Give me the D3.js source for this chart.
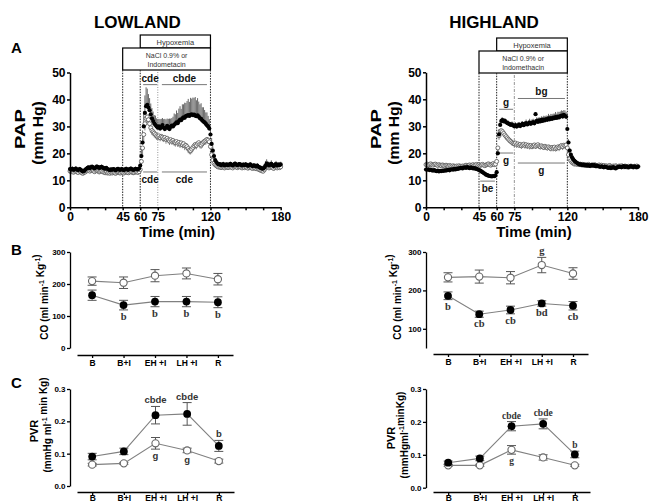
<!DOCTYPE html>
<html>
<head>
<meta charset="utf-8">
<script src="https://cdn.jsdelivr.net/npm/d3@7"></script>
<style>
  body { margin: 0; background: #fff; }
  svg { display: block; font-family: "Liberation Sans", Arial, sans-serif; }
</style>
</head>
<body>
<svg id="fig" width="649" height="502"></svg>
<script>
// ---------- Panel A: pulmonary arterial pressure, one value per minute (0..180) ----------
const minutes = d3.range(0, 181);
const xTickLabels = [0, 45, 60, 75, 120, 180];
const papTicks = [0, 10, 20, 30, 40, 50];

const lowFilledPAP = [
  14.2,14.0,14.3,13.9,14.1,14.4,14.0,13.8,14.2,14.0,13.6,13.3,13.5,13.9,14.3,
  14.6,14.8,14.5,14.9,15.0,14.7,14.4,14.8,15.1,14.9,14.6,14.8,15.0,14.7,14.5,
  14.3,14.6,14.2,14.0,13.8,14.1,13.9,14.2,14.0,13.7,14.1,14.3,14.0,13.9,14.2,
  14.0,13.8,14.1,14.3,14.0,13.9,14.2,14.4,14.1,13.9,14.0,14.3,14.2,14.0,14.4,
  15.5,19.0,24.0,30.0,35.0,37.5,38.0,37.0,36.0,34.5,33.0,32.0,31.0,30.5,30.0,
  29.5,30.0,29.2,29.8,30.5,29.5,29.0,29.6,30.2,29.4,29.0,29.8,30.3,30.0,30.6,
  31.0,31.5,31.2,32.0,32.5,32.3,33.0,33.4,33.2,33.8,34.0,34.2,33.9,34.3,34.5,
  34.2,34.4,34.0,33.8,34.1,33.6,33.0,32.8,32.2,31.8,31.5,31.0,30.4,30.0,29.2,
  27.0,23.5,21.0,19.0,17.5,16.8,16.2,15.9,16.0,15.6,15.8,16.0,15.5,15.7,15.9,
  15.6,15.8,16.1,15.7,15.5,15.9,16.2,15.8,15.6,15.9,16.0,15.7,15.5,15.8,15.6,
  15.9,15.7,15.4,15.6,15.9,15.5,15.3,15.6,15.4,15.2,15.5,15.0,14.8,14.6,14.4,
  14.3,14.8,15.4,16.2,16.0,15.5,15.8,16.1,15.6,15.3,15.7,16.0,15.5,15.8,15.6,15.9
];
const lowFilledErr = [
  0.8,0.7,0.9,0.8,0.7,0.9,0.8,0.7,0.8,0.9,0.8,0.7,0.8,0.9,0.8,
  0.9,0.8,0.9,1.0,0.9,0.8,0.9,1.0,0.9,0.8,0.9,0.8,0.9,0.8,0.7,
  0.8,0.7,0.8,0.7,0.8,0.7,0.8,0.7,0.8,0.7,0.8,0.7,0.8,0.7,0.8,
  0.7,0.8,0.7,0.8,0.7,0.8,0.7,0.8,0.7,0.8,0.7,0.8,0.7,0.8,0.9,
  1.5,3.0,4.5,5.5,6.5,7.0,6.0,5.0,4.5,4.0,3.8,3.5,3.2,3.5,3.0,
  3.2,2.8,3.5,3.0,2.6,3.2,3.8,3.0,2.7,3.4,3.9,3.1,2.8,3.6,4.2,
  3.5,4.4,3.8,4.6,5.0,4.2,5.2,4.8,5.6,4.9,5.4,6.0,5.2,6.3,5.8,
  6.5,6.2,6.9,5.9,6.4,5.6,5.2,5.8,4.9,5.3,4.6,4.2,4.8,3.9,3.5,
  3.0,2.2,1.6,1.2,1.0,0.9,0.8,0.9,0.8,0.9,0.8,0.9,0.8,0.9,0.8,
  0.8,0.9,0.8,0.9,0.8,0.9,0.8,0.9,0.8,0.9,0.8,0.9,0.8,0.9,0.8,
  0.9,0.8,0.9,0.8,0.9,0.8,0.9,0.8,0.9,0.8,0.9,0.8,0.9,0.8,0.9,
  1.0,1.3,1.8,1.6,1.2,1.0,1.1,1.3,1.0,0.9,1.1,1.2,1.0,0.9,1.1,1.0
];
const lowOpenPAP = [
  13.4,13.2,13.5,13.0,13.3,13.6,13.1,12.9,13.4,13.2,12.8,12.6,12.9,13.1,13.5,
  13.6,13.8,13.4,13.7,13.9,13.5,13.2,13.6,13.8,13.4,13.1,13.3,13.5,13.2,13.0,
  12.8,13.1,12.7,12.9,12.6,12.9,12.7,13.0,12.8,12.6,12.9,13.1,12.8,12.7,13.0,
  12.9,12.7,13.0,13.2,12.9,12.8,13.1,13.3,13.0,12.8,12.9,13.2,13.1,12.9,13.2,
  14.0,17.0,22.0,27.0,31.0,33.0,33.5,32.5,31.0,29.5,28.5,28.0,27.5,27.0,26.5,
  26.2,26.5,25.8,26.3,26.0,25.5,25.9,25.2,25.6,25.0,24.6,25.1,24.5,24.8,24.2,
  24.0,24.4,23.8,24.1,23.5,23.9,23.2,23.6,22.8,23.0,22.5,21.8,21.2,21.0,21.6,
  22.2,22.8,23.3,23.0,23.6,24.0,23.4,23.1,23.7,24.2,24.5,24.8,25.2,24.9,24.3,
  22.5,19.5,17.5,16.3,15.8,15.4,15.1,14.9,15.0,14.7,14.9,15.1,14.6,14.8,15.0,
  14.7,14.9,15.2,14.8,14.6,15.0,15.3,14.9,14.7,15.0,15.1,14.8,14.6,14.9,14.7,
  15.0,14.8,14.5,14.7,15.0,14.6,14.4,14.7,14.5,14.3,14.6,14.1,13.9,13.7,13.5,
  13.4,13.9,14.6,15.2,15.0,14.6,14.9,15.2,14.7,14.4,14.8,15.1,14.6,14.9,14.7,15.0
];
const lowOpenErr = [
  0.6,0.7,0.6,0.7,0.6,0.7,0.6,0.7,0.6,0.7,0.6,0.7,0.6,0.7,0.6,
  0.7,0.6,0.7,0.6,0.7,0.6,0.7,0.6,0.7,0.6,0.7,0.6,0.7,0.6,0.7,
  0.6,0.7,0.6,0.7,0.6,0.7,0.6,0.7,0.6,0.7,0.6,0.7,0.6,0.7,0.6,
  0.7,0.6,0.7,0.6,0.7,0.6,0.7,0.6,0.7,0.6,0.7,0.6,0.7,0.6,0.7,
  1.0,1.8,2.4,2.6,2.5,2.3,2.1,2.0,1.9,1.8,1.7,1.6,1.6,1.5,1.5,
  1.4,1.5,1.3,1.4,1.5,1.3,1.4,1.6,1.4,1.3,1.5,1.4,1.3,1.5,1.4,
  1.5,1.3,1.4,1.6,1.5,1.4,1.3,1.5,1.6,1.4,1.5,1.7,1.5,1.4,1.6,
  1.5,1.4,1.6,1.5,1.4,1.3,1.5,1.4,1.6,1.5,1.4,1.6,1.5,1.4,1.5,
  1.4,1.2,1.0,0.8,0.7,0.7,0.6,0.7,0.6,0.7,0.6,0.7,0.6,0.7,0.6,
  0.7,0.6,0.7,0.6,0.7,0.6,0.7,0.6,0.7,0.6,0.7,0.6,0.7,0.6,0.7,
  0.6,0.7,0.6,0.7,0.6,0.7,0.6,0.7,0.6,0.7,0.6,0.7,0.6,0.7,0.6,
  0.8,0.9,1.0,0.9,0.8,0.7,0.8,0.7,0.6,0.7,0.6,0.7,0.6,0.7,0.6,0.7
];
const highFilledPAP = [
  14.0,13.9,14.1,13.8,14.0,13.7,13.6,13.8,13.5,13.4,13.6,13.3,13.5,13.4,13.6,
  13.5,13.7,13.6,13.8,13.9,13.7,14.0,14.1,13.9,14.2,14.0,14.3,14.2,14.4,14.5,
  14.6,14.4,14.7,14.8,14.6,14.9,14.7,14.5,14.8,14.6,14.4,14.5,14.3,14.2,14.0,
  13.8,13.6,13.3,13.0,12.7,12.4,12.1,11.9,11.7,11.6,11.5,11.4,11.6,11.5,11.8,
  13.0,20.0,27.0,30.5,32.0,32.3,31.8,32.0,31.5,31.2,31.0,30.8,30.5,30.7,30.3,
  30.0,30.4,29.9,30.2,30.6,30.1,30.5,30.9,30.4,30.8,31.2,30.7,31.0,31.4,30.9,
  31.3,31.6,31.1,34.5,32.0,31.6,32.2,31.8,32.4,32.0,32.5,32.2,32.7,32.4,32.9,
  32.6,33.0,32.7,33.2,33.0,33.4,33.1,33.6,33.3,33.8,34.0,33.6,34.2,33.9,33.5,
  29.0,24.0,21.0,19.5,18.5,17.8,17.2,16.8,16.5,16.2,16.0,15.8,15.9,15.6,15.8,
  15.5,15.7,15.4,15.6,15.3,15.5,15.7,15.4,15.6,15.2,15.4,15.3,15.1,15.0,15.2,
  15.0,14.8,15.1,14.9,14.7,14.6,14.8,14.5,14.7,14.9,14.6,14.4,14.7,14.9,15.1,
  15.0,14.8,15.1,15.3,14.9,15.2,15.0,14.8,15.1,15.3,15.0,14.9,15.2,15.0,14.8,15.1
];
const highFilledErr = [
  0.5,0.6,0.5,0.6,0.5,0.6,0.5,0.6,0.5,0.6,0.5,0.6,0.5,0.6,0.5,
  0.6,0.5,0.6,0.5,0.6,0.5,0.6,0.5,0.6,0.5,0.6,0.5,0.6,0.5,0.6,
  0.5,0.6,0.5,0.6,0.5,0.6,0.5,0.6,0.5,0.6,0.5,0.6,0.5,0.6,0.5,
  0.6,0.7,0.6,0.7,0.6,0.7,0.6,0.7,0.6,0.7,0.6,0.7,0.6,0.7,0.8,
  0.9,1.5,1.8,1.5,1.2,1.0,1.1,1.0,0.9,1.0,1.1,0.9,1.0,1.1,0.9,
  1.0,1.1,0.9,1.2,1.0,1.1,1.3,1.0,1.2,1.1,1.3,1.0,1.2,1.4,1.1,
  1.3,1.2,1.4,0.8,1.3,1.5,1.2,1.4,1.3,1.5,1.4,1.6,1.3,1.5,1.7,
  1.5,1.6,1.8,1.5,1.7,1.9,1.6,1.8,2.0,1.7,1.9,2.1,1.8,2.0,1.8,
  1.5,1.2,0.9,0.8,0.7,0.6,0.7,0.6,0.5,0.6,0.5,0.6,0.5,0.6,0.5,
  0.6,0.5,0.6,0.5,0.6,0.5,0.6,0.5,0.6,0.5,0.6,0.5,0.6,0.5,0.6,
  0.5,0.6,0.5,0.6,0.5,0.6,0.5,0.6,0.5,0.6,0.5,0.6,0.5,0.6,0.5,
  0.6,0.5,0.6,0.5,0.6,0.5,0.6,0.5,0.6,0.5,0.6,0.5,0.6,0.5,0.6,0.5
];
const highOpenPAP = [
  15.8,16.0,15.7,15.9,16.1,15.8,15.6,15.9,16.0,15.7,15.5,15.8,15.6,15.4,15.7,
  15.5,15.3,15.6,15.4,15.2,15.5,15.3,15.1,15.4,15.2,15.0,15.3,15.1,15.4,15.2,
  15.0,15.3,15.1,15.4,15.6,15.3,15.5,15.7,15.4,15.6,15.8,15.5,15.7,15.9,15.6,
  15.8,15.5,15.7,15.9,15.6,15.4,15.7,15.9,16.1,15.8,15.6,15.9,16.2,15.8,16.0,
  17.0,22.0,26.5,28.2,28.4,28.0,27.4,26.8,26.2,25.7,25.2,24.8,24.4,24.0,23.7,
  23.5,23.8,23.2,23.5,23.0,23.3,22.8,23.1,23.4,22.9,23.2,22.7,23.0,22.6,22.9,
  22.5,22.8,23.1,22.6,22.9,23.2,22.7,22.4,22.8,22.5,22.2,22.6,22.3,22.0,22.4,
  22.1,21.8,22.2,21.9,22.3,21.7,22.0,22.4,22.1,22.6,22.9,22.5,23.0,22.8,23.1,
  22.0,19.5,18.0,17.2,16.6,16.3,16.0,16.2,15.9,16.1,15.8,16.0,15.7,15.9,15.6,
  15.8,15.5,15.7,15.9,15.6,15.4,15.7,15.5,15.8,15.6,15.3,15.5,15.7,15.4,15.6,
  15.3,15.5,15.2,15.4,15.1,15.3,15.5,15.2,15.0,15.3,15.1,15.4,15.2,15.0,15.3,
  15.1,15.4,15.2,15.0,15.3,15.1,14.9,15.2,15.0,15.3,15.1,14.9,15.2,15.0,15.3,15.1
];
const highOpenErr = [
  0.6,0.7,0.6,0.7,0.6,0.7,0.6,0.7,0.6,0.7,0.6,0.7,0.6,0.7,0.6,
  0.7,0.6,0.7,0.6,0.7,0.6,0.7,0.6,0.7,0.6,0.7,0.6,0.7,0.6,0.7,
  0.6,0.7,0.6,0.7,0.6,0.7,0.6,0.7,0.6,0.7,0.6,0.7,0.6,0.7,0.6,
  0.7,0.6,0.7,0.6,0.7,0.6,0.7,0.6,0.7,0.6,0.7,0.6,0.7,0.6,0.7,
  0.9,1.3,1.5,1.4,1.3,1.2,1.2,1.1,1.2,1.1,1.2,1.1,1.0,1.1,1.0,
  1.1,1.0,1.2,1.1,1.0,1.1,1.2,1.0,1.1,1.2,1.0,1.1,1.0,1.2,1.1,
  1.0,1.1,1.2,1.0,1.1,1.2,1.1,1.0,1.2,1.1,1.0,1.2,1.1,1.0,1.1,
  1.2,1.1,1.0,1.2,1.1,1.0,1.2,1.1,1.3,1.2,1.1,1.3,1.2,1.1,1.2,
  1.1,1.0,0.9,0.8,0.7,0.6,0.7,0.6,0.7,0.6,0.7,0.6,0.7,0.6,0.7,
  0.6,0.7,0.6,0.7,0.6,0.7,0.6,0.7,0.6,0.7,0.6,0.7,0.6,0.7,0.6,
  0.7,0.6,0.7,0.6,0.7,0.6,0.7,0.6,0.7,0.6,0.7,0.6,0.7,0.6,0.7,
  0.6,0.7,0.6,0.7,0.6,0.7,0.6,0.7,0.6,0.7,0.6,0.7,0.6,0.7,0.6,0.7
];

// significance brackets in panel A: time span, pressure level, letters
const lowBrackets = [
  { from: 62.5, to: 74.5, at: 45.5, text: "cde",  side: "above" },
  { from: 78.5, to: 117,  at: 45.5, text: "cbde", side: "above" },
  { from: 62.5, to: 74.5, at: 13.1, text: "cde",  side: "below" },
  { from: 78.5, to: 117,  at: 13.1, text: "cde",  side: "below" }
];
const highBrackets = [
  { from: 62, to: 74,   at: 36.3, text: "g",  side: "above" },
  { from: 78, to: 118,  at: 40.3, text: "bg", side: "above" },
  { from: 62, to: 74,   at: 20.1, text: "g",  side: "below" },
  { from: 78, to: 118,  at: 16.4, text: "g",  side: "below" },
  { from: 46, to: 58.5, at: 9.7,  text: "be", side: "below" }
];

// ---------- Panels B and C: period means ----------
const periods = ["B", "B+I", "EH +I", "LH +I", "R"];

const lowCOFilled = [165, 134, 145, 145, 143];
const lowCOFilledErr = [16, 15, 16, 16, 17];
const lowCOOpen = [209, 204, 226, 233, 215];
const lowCOOpenErr = [13, 18, 19, 17, 18];
const highCOFilled = [186, 138, 149, 166, 160];
const highCOFilledErr = [10, 8, 10, 7, 11];
const highCOOpen = [234, 236, 233, 266, 244];
const highCOOpenErr = [12, 17, 16, 20, 15];
const coTicksLow = [0, 100, 200, 300];
const coTicksHigh = [100, 200, 300];

const lowPVRFilled = [0.091, 0.107, 0.219, 0.223, 0.124];
const lowPVRFilledErr = [0.010, 0.010, 0.027, 0.035, 0.017];
const lowPVROpen = [0.066, 0.070, 0.132, 0.110, 0.077];
const lowPVROpenErr = [0.004, 0.003, 0.018, 0.007, 0.006];
const highPVRFilled = [0.076, 0.089, 0.187, 0.194, 0.101];
const highPVRFilledErr = [0.005, 0.007, 0.014, 0.015, 0.010];
const highPVROpen = [0.068, 0.068, 0.115, 0.092, 0.068];
const highPVROpenErr = [0.003, 0.003, 0.013, 0.008, 0.003];
const pvrTicks = [0.0, 0.1, 0.2, 0.3];

const lowCONotes = [
  { cat: "B+I", text: "b", series: "filled", side: "below" },
  { cat: "EH +I", text: "b", series: "filled", side: "below" },
  { cat: "LH +I", text: "b", series: "filled", side: "below" },
  { cat: "R", text: "b", series: "filled", side: "below" }
];
const highCONotes = [
  { cat: "B", text: "b", series: "filled", side: "below" },
  { cat: "B+I", text: "cb", series: "filled", side: "below" },
  { cat: "EH +I", text: "cb", series: "filled", side: "below" },
  { cat: "LH +I", text: "bd", series: "filled", side: "below" },
  { cat: "R", text: "cb", series: "filled", side: "below" },
  { cat: "LH +I", text: "g", series: "open", side: "above" }
];
const lowPVRNotes = [
  { cat: "EH +I", text: "cbde", series: "filled", side: "above" },
  { cat: "LH +I", text: "cbde", series: "filled", side: "above" },
  { cat: "R", text: "b", series: "filled", side: "above" },
  { cat: "EH +I", text: "g", series: "open", side: "below" },
  { cat: "LH +I", text: "g", series: "open", side: "below" }
];
const highPVRNotes = [
  { cat: "EH +I", text: "cbde", series: "filled", side: "above" },
  { cat: "LH +I", text: "cbde", series: "filled", side: "above" },
  { cat: "R", text: "b", series: "filled", side: "above" },
  { cat: "EH +I", text: "g", series: "open", side: "below" }
];

// ---------- drawing ----------
const svg = d3.select("#fig");

function styleAxis(sel, fontSize, width) {
  sel.select(".domain").attr("stroke", "#000").attr("stroke-width", width);
  sel.selectAll(".tick line").attr("stroke", "#000").attr("stroke-width", width);
  sel.selectAll(".tick text")
    .attr("fill", "#000")
    .attr("font-weight", "bold")
    .attr("font-size", fontSize)
    .attr("font-family", "'Liberation Sans', Arial, sans-serif");
}

function rotatedLabel(g, x, y, parts, size, stretch) {
  const t = g.append("text")
    .attr("transform", `translate(${x},${y}) rotate(-90) scale(${stretch},1)`)
    .attr("text-anchor", "middle")
    .attr("font-weight", "bold")
    .attr("font-size", size)
    .attr("fill", "#000");
  parts.forEach(p => {
    if (p.sup) {
      t.append("tspan").attr("dy", -4).attr("font-size", size * 0.7).text(p.sup);
      t.append("tspan").attr("dy", 4).text("");
    } else {
      t.append("tspan").text(p.t);
    }
  });
  return t;
}

function papPanel(o) {
  const g = svg.append("g");
  const x = d3.scaleLinear().domain([0, 180]).range([o.left, o.right]);
  const y = d3.scaleLinear().domain([0, 50]).range([o.bottom, o.top]);

  // title
  g.append("text").attr("x", (x(0) + x(180)) / 2 - 38 + o.titleShift).attr("y", 28)
    .attr("text-anchor", "middle").attr("font-size", 17).attr("font-weight", "bold")
    .text(o.title);

  // treatment boxes
  const boxBottom = o.boxTop + 35;
  g.append("rect").attr("x", x(60)).attr("y", o.boxTop)
    .attr("width", x(120) - x(60)).attr("height", 13)
    .attr("fill", "#fff").attr("stroke", "#000").attr("stroke-width", 1.2);
  g.append("text").attr("x", (x(60) + x(120)) / 2).attr("y", o.boxTop + 9.5)
    .attr("text-anchor", "middle").attr("font-size", 7.5).attr("fill", "#333").text("Hypoxemia");
  g.append("rect").attr("x", x(45)).attr("y", o.boxTop + 13)
    .attr("width", x(120) - x(45)).attr("height", 22)
    .attr("fill", "#fff").attr("stroke", "#000").attr("stroke-width", 1.2);
  g.append("text").attr("x", (x(45) + x(120)) / 2).attr("y", o.boxTop + 22.5)
    .attr("text-anchor", "middle").attr("font-size", 7).attr("fill", "#333").text("NaCl 0.9% or");
  g.append("text").attr("x", (x(45) + x(120)) / 2).attr("y", o.boxTop + 31.5)
    .attr("text-anchor", "middle").attr("font-size", 7).attr("fill", "#333").text(o.drug);

  // event markers
  [45, 60, 120].forEach(t => {
    g.append("line").attr("x1", x(t)).attr("x2", x(t))
      .attr("y1", boxBottom).attr("y2", y(0))
      .attr("stroke", "#222").attr("stroke-width", 1).attr("stroke-dasharray", "1.5,1.2");
  });
  g.append("line").attr("x1", x(75)).attr("x2", x(75))
    .attr("y1", boxBottom + 2).attr("y2", y(0))
    .attr("stroke", "#777").attr("stroke-width", 0.8).attr("stroke-dasharray", o.dash75);

  // significance brackets
  o.brackets.forEach(b => {
    g.append("line").attr("x1", x(b.from)).attr("x2", x(b.to))
      .attr("y1", y(b.at)).attr("y2", y(b.at))
      .attr("stroke", "#777").attr("stroke-width", 1);
    g.append("text").attr("x", (x(b.from) + x(b.to)) / 2)
      .attr("y", b.side === "above" ? y(b.at) - 3 : y(b.at) + 11)
      .attr("text-anchor", "middle").attr("font-size", 10).attr("font-weight", "bold")
      .attr("fill", "#111").text(b.text);
  });

  // error bars (filled up, open down)
  g.append("g").selectAll("line").data(minutes).join("line")
    .attr("x1", d => x(d)).attr("x2", d => x(d))
    .attr("y1", d => y(o.filled[d])).attr("y2", d => y(o.filled[d] + o.filledErr[d]))
    .attr("stroke", "#555").attr("stroke-width", 0.9);
  g.append("g").selectAll("line").data(minutes).join("line")
    .attr("x1", d => x(d)).attr("x2", d => x(d))
    .attr("y1", d => y(o.open[d])).attr("y2", d => y(o.open[d] - o.openErr[d]))
    .attr("stroke", "#777").attr("stroke-width", 0.9);

  // markers
  g.append("g").selectAll("circle").data(minutes).join("circle")
    .attr("cx", d => x(d)).attr("cy", d => y(o.open[d])).attr("r", 2)
    .attr("fill", "#fff").attr("stroke", "#555").attr("stroke-width", 0.8);
  g.append("g").selectAll("circle").data(minutes).join("circle")
    .attr("cx", d => x(d)).attr("cy", d => y(o.filled[d])).attr("r", 2.1)
    .attr("fill", "#000");

  // axes
  const ax = g.append("g").attr("transform", `translate(0,${o.bottom})`)
    .call(d3.axisBottom(x).tickValues(d3.range(0, 181, 15)).tickSize(3).tickSizeOuter(0)
      .tickPadding(2).tickFormat(d => xTickLabels.includes(d) ? d : ""));
  styleAxis(ax, 12, 1.5);
  const ay = g.append("g").attr("transform", `translate(${o.left},0)`)
    .call(d3.axisLeft(y).tickValues(papTicks).tickSize(3).tickSizeOuter(0).tickPadding(1.5));
  styleAxis(ay, 12, 1.5);

  g.append("text").attr("x", (x(0) + x(180)) / 2 + 2).attr("y", 237)
    .attr("text-anchor", "middle").attr("font-size", 15).attr("font-weight", "bold")
    .text("Time (min)");

  rotatedLabel(g, o.left - 45, 129, [{ t: "PAP" }], 15, 1.35);
  rotatedLabel(g, o.left - 27, 133, [{ t: "(mm Hg)" }], 14, 1.12);
}

function periodPanel(o) {
  const g = svg.append("g");
  const x = d3.scalePoint().domain(periods).range(o.xRange).padding(0.48);
  const y = d3.scaleLinear().domain(o.yDomain).range(o.yRange);

  const series = {
    open: { v: o.open, e: o.openErr },
    filled: { v: o.filled, e: o.filledErr }
  };

  // error bars with caps
  ["open", "filled"].forEach(k => {
    const s = series[k];
    const eg = g.append("g").attr("stroke", "#555").attr("stroke-width", 1);
    periods.forEach((p, i) => {
      const cx = x(p), lo = y(s.v[i] - s.e[i]), hi = y(s.v[i] + s.e[i]);
      eg.append("line").attr("x1", cx).attr("x2", cx).attr("y1", lo).attr("y2", hi);
      eg.append("line").attr("x1", cx - 4.5).attr("x2", cx + 4.5).attr("y1", lo).attr("y2", lo);
      eg.append("line").attr("x1", cx - 4.5).attr("x2", cx + 4.5).attr("y1", hi).attr("y2", hi);
    });
  });

  // connecting lines
  ["open", "filled"].forEach(k => {
    const s = series[k];
    g.append("path")
      .attr("d", d3.line().x((d, i) => x(periods[i])).y(d => y(d))(s.v))
      .attr("fill", "none").attr("stroke", "#808080").attr("stroke-width", 1.1);
  });

  // markers
  g.append("g").selectAll("circle").data(o.open).join("circle")
    .attr("cx", (d, i) => x(periods[i])).attr("cy", d => y(d)).attr("r", 3.6)
    .attr("fill", "#fff").attr("stroke", "#666").attr("stroke-width", 1.1);
  g.append("g").selectAll("circle").data(o.filled).join("circle")
    .attr("cx", (d, i) => x(periods[i])).attr("cy", d => y(d)).attr("r", 3.9)
    .attr("fill", "#000");

  // letters
  o.notes.forEach(n => {
    const s = series[n.series];
    const i = periods.indexOf(n.cat);
    const yy = n.side === "above" ? y(s.v[i] + s.e[i]) - 3 : y(s.v[i] - s.e[i]) + 10;
    g.append("text").attr("x", x(n.cat)).attr("y", yy)
      .attr("text-anchor", "middle").attr("font-size", o.noteSize)
      .attr("font-family", o.noteFont).attr("font-weight", "bold").attr("fill", "#333")
      .text(n.text);
  });

  // axes
  const ax = g.append("g").attr("transform", `translate(0,${o.xAxisY})`)
    .call(d3.axisBottom(x).tickSize(3).tickSizeOuter(0).tickPadding(o.xPad));
  styleAxis(ax, 8.5, 1.3);
  const ay = g.append("g").attr("transform", `translate(${o.yAxisX},0)`)
    .call(d3.axisLeft(y).tickValues(o.ticks).tickSize(3).tickSizeOuter(0).tickPadding(1.5)
      .tickFormat(o.fmt));
  styleAxis(ay, 8, 1.3);

  o.labels.forEach(l => rotatedLabel(g, l.x, l.y, l.parts, l.size, 1));
}

// Panel A
papPanel({
  title: "LOWLAND", titleShift: 0, left: 70, right: 280.7, top: 72.5, bottom: 207.3,
  boxTop: 35, drug: "Indometacin", dash75: "1,1.5",
  filled: lowFilledPAP, filledErr: lowFilledErr, open: lowOpenPAP, openErr: lowOpenErr,
  brackets: lowBrackets
});
papPanel({
  title: "HIGHLAND", titleShift: 0, left: 426, right: 638, top: 72.3, bottom: 207.3,
  boxTop: 38, drug: "Indomethacin", dash75: "3,1.5,1,1.5",
  filled: highFilledPAP, filledErr: highFilledErr, open: highOpenPAP, openErr: highOpenErr,
  brackets: highBrackets
});

const coParts = [{ t: "CO (ml min" }, { sup: "-1" }, { t: " Kg" }, { sup: "-1" }, { t: ")" }];

// Panel B
periodPanel({
  xRange: [77, 233], yDomain: [0, 300], yRange: [348, 252], ticks: coTicksLow, fmt: d3.format("d"),
  xAxisY: 355, yAxisX: 70, xPad: 1.5,
  filled: lowCOFilled, filledErr: lowCOFilledErr, open: lowCOOpen, openErr: lowCOOpenErr,
  notes: lowCONotes, noteSize: 10.5, noteFont: "'Liberation Serif', serif",
  labels: [{ x: 48, y: 297, parts: coParts, size: 10 }]
});
periodPanel({
  xRange: [433, 588], yDomain: [50, 300], yRange: [348, 252], ticks: coTicksHigh, fmt: d3.format("d"),
  xAxisY: 354, yAxisX: 426, xPad: 1.5,
  filled: highCOFilled, filledErr: highCOFilledErr, open: highCOOpen, openErr: highCOOpenErr,
  notes: highCONotes, noteSize: 10.5, noteFont: "'Liberation Serif', serif",
  labels: [{ x: 401, y: 297, parts: coParts, size: 10 }]
});

// Panel C
periodPanel({
  xRange: [77, 234], yDomain: [0, 0.3], yRange: [486, 389], ticks: pvrTicks, fmt: d3.format(".1f"),
  xAxisY: 492, yAxisX: 70, xPad: 0,
  filled: lowPVRFilled, filledErr: lowPVRFilledErr, open: lowPVROpen, openErr: lowPVROpenErr,
  notes: lowPVRNotes, noteSize: 9.5, noteFont: "'Liberation Sans', Arial, sans-serif",
  labels: [
    { x: 38, y: 431, parts: [{ t: "PVR" }], size: 11 },
    { x: 51, y: 425, parts: [{ t: "(mmHg ml" }, { sup: "-1" }, { t: " min Kg)" }], size: 10 }
  ]
});
periodPanel({
  xRange: [433, 590], yDomain: [0, 0.3], yRange: [487.7, 389], ticks: pvrTicks, fmt: d3.format(".1f"),
  xAxisY: 492, yAxisX: 426, xPad: 0,
  filled: highPVRFilled, filledErr: highPVRFilledErr, open: highPVROpen, openErr: highPVROpenErr,
  notes: highPVRNotes, noteSize: 9.5, noteFont: "'Liberation Serif', serif",
  labels: [
    { x: 395, y: 438, parts: [{ t: "PVR" }], size: 11 },
    { x: 408, y: 435, parts: [{ t: "(mmHgml" }, { sup: "-1" }, { t: "minKg)" }], size: 10 }
  ]
});

// panel letters
[["A", 53], ["B", 255], ["C", 388]].forEach(([t, yy]) => {
  svg.append("text").attr("x", 11).attr("y", yy).attr("font-size", 15)
    .attr("font-weight", "bold").text(t);
});
</script>
</body>
</html>
